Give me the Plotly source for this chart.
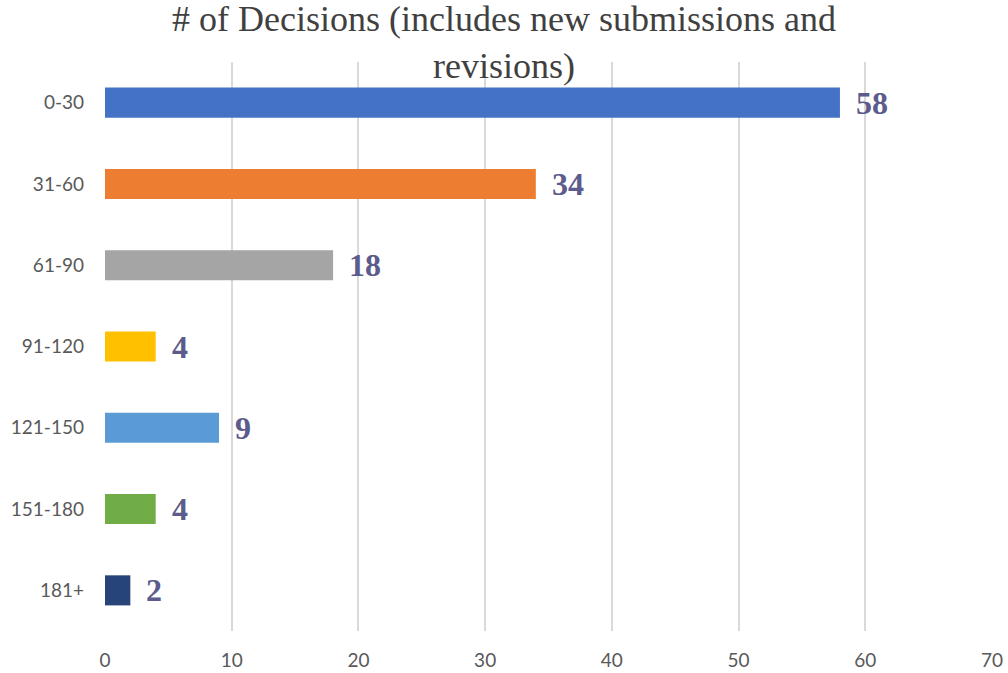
import plotly.graph_objects as go

categories = ["0-30", "31-60", "61-90", "91-120", "121-150", "151-180", "181+"]
values = [58, 34, 18, 4, 9, 4, 2]
colors = ["#4472C4", "#ED7D31", "#A5A5A5", "#FFC000", "#5B9BD5", "#70AD47", "#264478"]
x_ticks = [0, 10, 20, 30, 40, 50, 60, 70]
title_text = "# of Decisions (includes new submissions and<br>revisions)"

fig = go.Figure()
fig.add_trace(go.Bar(
    y=categories, x=values, orientation="h",
    marker=dict(color=colors, line=dict(width=0)),
    hoverinfo="x+y",
))

for c, v in zip(categories, values):
    fig.add_annotation(x=v, y=c, text=f"<b>{v}</b>", showarrow=False,
                       xanchor="left", yanchor="middle", xshift=14,
                       font=dict(family="Liberation Serif", size=32, color="#5B5B8C"))

fig.update_layout(
    width=1008, height=673,
    margin=dict(l=105, r=16, t=62, b=42),
    paper_bgcolor="white", plot_bgcolor="white",
    bargap=0.63,
    showlegend=False,
    title=dict(text=title_text, x=0.5, xref="container", xanchor="center",
               y=0.954, yref="container", yanchor="middle",
               font=dict(family="Liberation Serif", size=36, color="#404040")),
    xaxis=dict(range=[0, 70], tickvals=x_ticks, showgrid=True, gridcolor="#D9D9D9",
               gridwidth=1.5, zeroline=False, showline=False, ticks="",
               ticklabelstandoff=16, automargin=False,
               tickfont=dict(family="Lato", size=19, color="#595959")),
    yaxis=dict(categoryorder="array", categoryarray=categories[::-1],
               showgrid=False, zeroline=False, showline=False, ticks="",
               ticklabelstandoff=20, automargin=False,
               tickfont=dict(family="Lato", size=19, color="#595959")),
)

fig.write_html("out.html", config={"displayModeBar": False},
               post_script="document.body.style.margin='0';")
